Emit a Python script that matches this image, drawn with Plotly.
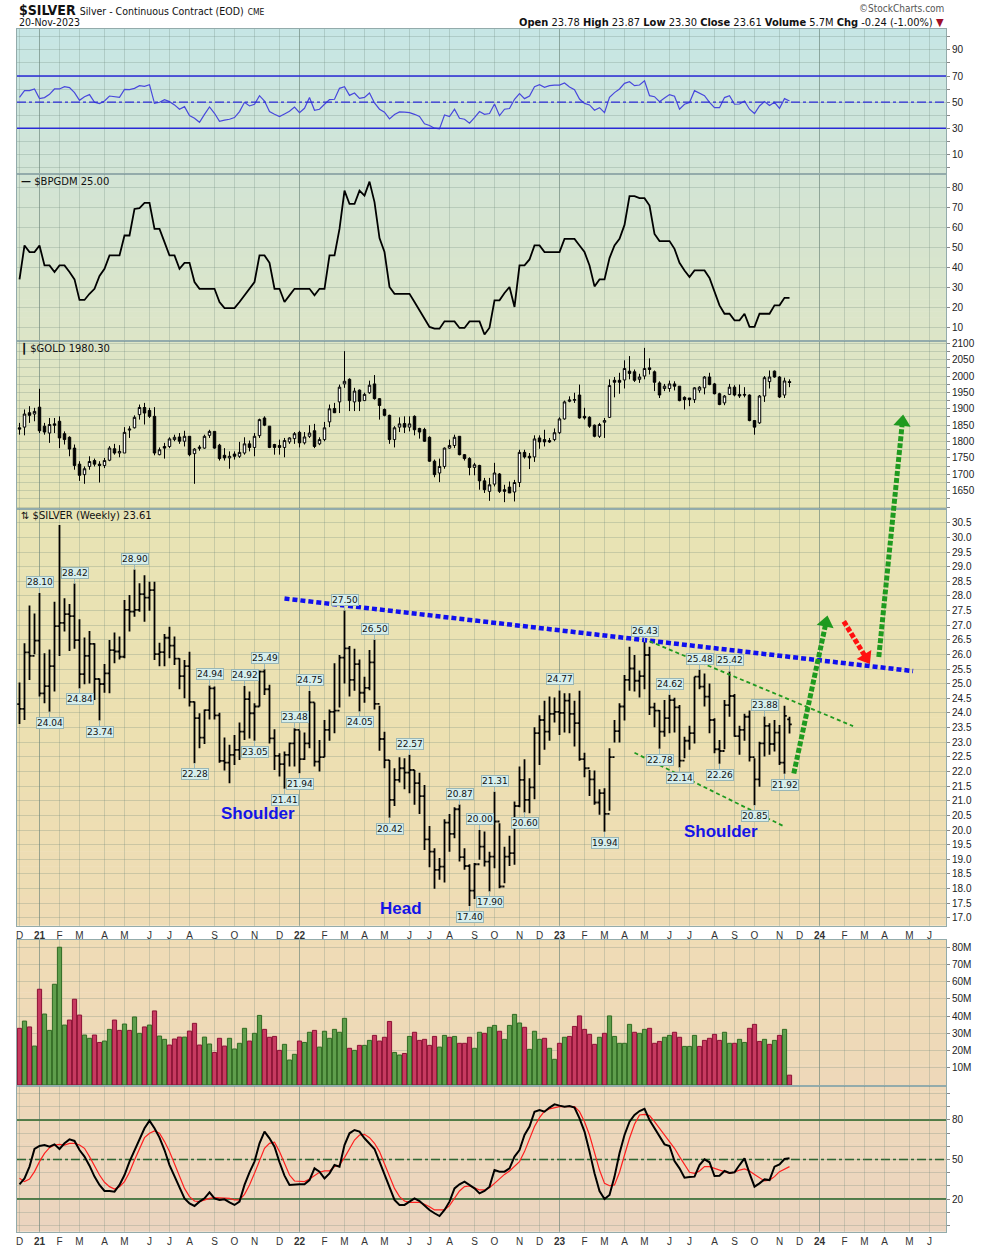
import plotly.graph_objects as go
import pandas as pd

W, H = 990, 1248
ML, MR = 17, 44

dates = pd.date_range("2020-12-07", periods=155, freq="W-MON")

silver_open = [24.30, 24.14, 26.07, 25.95, 26.47, 24.67, 24.92, 25.60, 26.97, 27.08,
 27.38, 27.31, 26.49, 25.33, 25.95, 26.36, 25.16, 24.99, 25.35, 26.15,
 26.10, 25.92, 27.52, 27.46, 27.52, 28.06, 27.94, 28.20, 26.01, 26.08,
 26.57, 26.30, 25.86, 25.26, 25.60, 24.38, 23.82, 23.16, 24.10, 24.84,
 23.92, 22.36, 22.30, 22.57, 22.74, 23.36, 24.47, 23.99, 24.22, 25.41,
 24.81, 23.13, 22.53, 22.25, 22.57, 22.96, 23.42, 22.42, 22.96, 24.36,
 22.34, 22.49, 23.42, 24.04, 24.08, 25.89, 26.21, 25.13, 25.67, 24.69,
 24.86, 25.73, 24.31, 23.11, 22.39, 21.03, 21.71, 22.11, 21.96, 22.05,
 21.60, 21.16, 19.68, 19.26, 18.64, 18.75, 20.25, 19.87, 20.71, 19.07,
 18.77, 17.93, 18.83, 19.43, 18.92, 19.09, 20.29, 18.07, 19.09, 19.21,
 20.82, 21.71, 21.03, 21.46, 23.31, 23.76, 23.36, 23.97, 24.04, 24.00,
 24.42, 23.97, 23.65, 22.42, 22.11, 21.73, 20.94, 21.26, 20.55, 22.49,
 23.38, 24.22, 25.13, 25.52, 25.10, 25.26, 25.98, 24.19, 24.08, 23.36,
 23.82, 24.44, 24.19, 22.37, 23.05, 23.31, 25.24, 24.90, 24.56, 23.76,
 22.76, 22.70, 24.27, 24.58, 23.21, 23.42, 23.87, 22.49, 21.73, 22.96,
 23.56, 22.94, 23.33, 22.30, 23.78]
silver_high = [25.04, 26.38, 27.67, 27.40, 28.10, 26.04, 26.17, 27.80, 30.42, 27.92,
 27.72, 28.42, 27.20, 26.58, 26.80, 26.38, 25.18, 25.67, 26.49, 26.75,
 26.61, 27.86, 28.03, 28.90, 28.43, 28.71, 28.48, 28.48, 26.40, 26.70,
 26.95, 26.61, 25.87, 25.81, 26.09, 24.39, 23.99, 24.12, 24.94, 24.90,
 24.01, 23.16, 22.91, 23.25, 23.67, 24.92, 24.73, 24.33, 25.45, 25.49,
 24.96, 23.44, 22.62, 22.68, 22.99, 23.48, 23.40, 23.33, 24.75, 24.36,
 23.08, 23.76, 24.12, 25.70, 25.98, 27.50, 26.29, 26.19, 25.83, 25.24,
 26.15, 26.50, 24.25, 23.36, 22.39, 22.11, 22.49, 22.45, 22.57, 22.05,
 21.96, 21.54, 20.14, 19.38, 19.04, 20.37, 20.55, 20.78, 20.87, 19.38,
 18.83, 18.87, 20.00, 19.95, 19.26, 21.31, 20.23, 19.43, 19.80, 20.97,
 22.17, 22.42, 21.77, 23.51, 23.92, 24.42, 24.56, 24.53, 24.77, 24.67,
 24.67, 24.42, 24.76, 22.64, 22.05, 22.03, 21.39, 21.43, 22.79, 23.76,
 24.33, 25.30, 26.26, 25.98, 25.45, 26.43, 26.26, 24.35, 24.10, 24.44,
 24.62, 24.52, 24.27, 23.19, 23.56, 25.24, 25.48, 25.35, 25.01, 23.82,
 23.08, 24.44, 25.42, 24.65, 23.56, 23.97, 24.08, 22.45, 23.02, 23.88,
 23.65, 23.76, 23.59, 24.25, 23.87]
silver_low = [23.62, 23.76, 25.13, 26.01, 24.56, 24.33, 24.04, 24.73, 25.95, 26.78,
 26.12, 26.19, 24.84, 24.98, 25.01, 24.44, 23.74, 24.69, 24.67, 25.70,
 25.83, 25.87, 26.78, 27.29, 27.46, 27.12, 27.49, 25.81, 25.60, 25.60,
 25.87, 25.64, 24.81, 24.50, 24.22, 22.28, 22.79, 22.94, 23.78, 23.78,
 22.30, 22.03, 21.60, 22.22, 22.39, 23.08, 23.13, 23.05, 24.22, 24.61,
 22.96, 22.05, 21.83, 21.41, 22.17, 22.17, 21.94, 22.39, 22.79, 22.17,
 22.00, 22.49, 23.05, 23.31, 24.19, 25.01, 24.56, 24.76, 24.05, 24.35,
 24.78, 24.12, 22.71, 22.11, 20.42, 20.82, 21.62, 21.39, 21.26, 20.86,
 20.55, 19.32, 18.73, 17.99, 18.30, 18.21, 19.26, 19.72, 18.92, 18.64,
 17.40, 17.64, 18.98, 18.75, 17.90, 18.69, 18.01, 18.18, 18.77, 18.81,
 20.78, 20.60, 20.57, 21.05, 22.22, 22.74, 23.05, 23.67, 23.25, 23.33,
 23.31, 22.85, 22.37, 21.80, 21.16, 20.86, 20.52, 19.94, 20.66, 22.99,
 22.99, 23.74, 24.76, 24.73, 24.53, 24.81, 23.93, 23.51, 22.78, 23.19,
 23.31, 23.33, 22.14, 22.45, 22.74, 22.96, 24.81, 24.22, 23.31, 22.62,
 22.26, 22.76, 23.87, 23.19, 22.57, 23.05, 22.34, 20.85, 21.48, 22.51,
 22.57, 22.68, 22.22, 21.92, 23.30]
silver_close = [24.14, 26.07, 25.95, 26.47, 24.67, 24.92, 25.60, 26.97, 27.08, 27.38,
 27.31, 26.49, 25.33, 25.95, 26.36, 25.16, 24.99, 25.35, 26.15, 26.10,
 25.92, 27.52, 27.46, 27.52, 28.06, 27.94, 28.20, 26.01, 26.08, 26.57,
 26.30, 25.86, 25.26, 25.60, 24.38, 23.82, 23.16, 24.10, 24.84, 23.92,
 22.36, 22.30, 22.57, 22.74, 23.36, 24.47, 23.99, 24.22, 25.41, 24.81,
 23.13, 22.53, 22.25, 22.57, 22.96, 23.42, 22.42, 22.96, 24.36, 22.34,
 22.49, 23.42, 24.04, 24.08, 25.89, 26.21, 25.13, 25.67, 24.69, 24.86,
 25.73, 24.31, 23.11, 22.39, 21.03, 21.71, 22.11, 21.96, 22.05, 21.60,
 21.16, 19.68, 19.26, 18.64, 18.75, 20.25, 19.87, 20.71, 19.07, 18.77,
 17.93, 18.83, 19.43, 18.92, 19.09, 20.29, 18.07, 19.09, 19.21, 20.82,
 21.71, 21.03, 21.46, 23.31, 23.76, 23.36, 23.97, 24.04, 24.00, 24.42,
 23.97, 23.65, 22.42, 22.11, 21.73, 20.94, 21.26, 20.55, 22.49, 23.38,
 24.22, 25.13, 25.52, 25.10, 25.26, 25.98, 24.19, 24.08, 23.36, 23.82,
 24.44, 24.19, 22.37, 23.05, 23.31, 25.24, 24.90, 24.56, 23.76, 22.76,
 22.70, 24.27, 24.58, 23.21, 23.42, 23.87, 22.49, 21.73, 22.96, 23.56,
 22.94, 23.33, 22.30, 23.90, 23.61]

gold_open = [1842, 1844, 1888, 1884, 1905, 1847, 1826, 1854, 1862, 1824,
 1813, 1780, 1731, 1699, 1724, 1742, 1731, 1727, 1743, 1778,
 1765, 1765, 1835, 1842, 1882, 1904, 1895, 1877, 1760, 1785,
 1785, 1806, 1814, 1801, 1816, 1763, 1779, 1780, 1819, 1831,
 1789, 1758, 1750, 1762, 1755, 1765, 1793, 1782, 1818, 1872,
 1847, 1791, 1788, 1782, 1799, 1809, 1828, 1796, 1816, 1833,
 1793, 1806, 1860, 1901, 1921, 1976, 1990, 1921, 1957, 1925,
 1949, 1976, 1931, 1898, 1880, 1806, 1844, 1855, 1844, 1877,
 1840, 1837, 1813, 1740, 1704, 1724, 1780, 1788, 1816, 1760,
 1748, 1721, 1727, 1680, 1648, 1670, 1701, 1653, 1661, 1646,
 1675, 1767, 1755, 1753, 1811, 1806, 1803, 1806, 1827, 1869,
 1923, 1926, 1942, 1877, 1874, 1850, 1816, 1859, 1874, 1987,
 1987, 1988, 2015, 2013, 1990, 2000, 2025, 2013, 1979, 1962,
 1962, 1976, 1969, 1935, 1933, 1928, 1957, 1964, 1997, 1976,
 1946, 1918, 1944, 1966, 1944, 1944, 1942, 1864, 1857, 1939,
 1983, 2015, 1997, 1942, 1983]
gold_high = [1857, 1898, 1908, 1903, 1961, 1857, 1872, 1872, 1877, 1831,
 1816, 1791, 1740, 1724, 1755, 1748, 1740, 1750, 1786, 1793,
 1789, 1844, 1847, 1880, 1913, 1918, 1903, 1905, 1782, 1796,
 1813, 1821, 1826, 1833, 1816, 1780, 1789, 1821, 1836, 1831,
 1793, 1780, 1770, 1770, 1799, 1813, 1803, 1826, 1870, 1877,
 1847, 1793, 1806, 1811, 1813, 1829, 1833, 1829, 1850, 1854,
 1813, 1860, 1913, 1918, 1974, 2076, 1993, 1964, 1959, 1949,
 1986, 2003, 1933, 1901, 1882, 1847, 1874, 1877, 1877, 1880,
 1842, 1842, 1816, 1745, 1748, 1782, 1806, 1821, 1816, 1762,
 1752, 1735, 1729, 1689, 1689, 1735, 1704, 1668, 1678, 1683,
 1775, 1775, 1765, 1819, 1819, 1836, 1811, 1840, 1874, 1925,
 1938, 1949, 1974, 1903, 1877, 1852, 1857, 1872, 1990, 1997,
 2010, 2048, 2061, 2020, 2007, 2086, 2054, 2017, 1984, 1976,
 1986, 1984, 1969, 1938, 1933, 1966, 1969, 2000, 2010, 1979,
 1949, 1942, 1976, 1972, 1974, 1966, 1944, 1864, 1942, 2000,
 2017, 2017, 2000, 1995, 1990]
gold_low = [1821, 1819, 1857, 1862, 1826, 1821, 1796, 1826, 1780, 1791,
 1755, 1714, 1680, 1671, 1714, 1724, 1675, 1719, 1740, 1760,
 1752, 1765, 1811, 1840, 1867, 1852, 1872, 1758, 1758, 1748,
 1780, 1801, 1793, 1785, 1755, 1671, 1772, 1778, 1811, 1778,
 1742, 1742, 1717, 1745, 1750, 1760, 1770, 1755, 1811, 1847,
 1780, 1760, 1760, 1752, 1793, 1793, 1782, 1791, 1811, 1780,
 1789, 1801, 1844, 1887, 1887, 1964, 1893, 1893, 1893, 1925,
 1946, 1928, 1867, 1877, 1793, 1782, 1829, 1826, 1831, 1819,
 1809, 1799, 1738, 1691, 1676, 1717, 1778, 1780, 1758, 1742,
 1697, 1697, 1653, 1643, 1619, 1663, 1643, 1615, 1643, 1617,
 1661, 1748, 1716, 1738, 1778, 1785, 1796, 1801, 1823, 1867,
 1920, 1918, 1870, 1867, 1842, 1813, 1811, 1811, 1872, 1935,
 1946, 1962, 1990, 1982, 1979, 1990, 2005, 1954, 1933, 1954,
 1952, 1956, 1923, 1898, 1908, 1918, 1949, 1944, 1972, 1944,
 1911, 1911, 1942, 1938, 1933, 1935, 1862, 1821, 1854, 1921,
 1962, 1995, 1933, 1933, 1966]
gold_close = [1838, 1884, 1880, 1892, 1833, 1829, 1852, 1850, 1811, 1806,
 1777, 1727, 1697, 1717, 1739, 1731, 1727, 1742, 1780, 1765,
 1770, 1828, 1838, 1874, 1904, 1887, 1877, 1765, 1775, 1780,
 1808, 1813, 1801, 1816, 1760, 1777, 1783, 1816, 1831, 1780,
 1748, 1750, 1755, 1755, 1767, 1793, 1782, 1816, 1867, 1850,
 1782, 1782, 1782, 1803, 1811, 1824, 1796, 1814, 1826, 1785,
 1806, 1842, 1900, 1888, 1966, 1984, 1925, 1954, 1923, 1944,
 1972, 1931, 1910, 1880, 1806, 1842, 1854, 1844, 1854, 1836,
 1829, 1801, 1740, 1699, 1724, 1780, 1788, 1813, 1760, 1748,
 1721, 1729, 1680, 1653, 1668, 1704, 1648, 1648, 1643, 1675,
 1767, 1753, 1750, 1808, 1799, 1799, 1799, 1827, 1869, 1921,
 1927, 1928, 1872, 1872, 1847, 1816, 1852, 1864, 1971, 1981,
 1981, 2023, 2008, 1987, 1997, 2023, 2020, 1981, 1942, 1969,
 1976, 1969, 1925, 1928, 1928, 1964, 1966, 1997, 1974, 1946,
 1913, 1939, 1966, 1942, 1939, 1942, 1864, 1844, 1939, 1995,
 1997, 1997, 1936, 1985, 1980.3]

rsi = [53.7, 58.8, 58.8, 60.1, 52.7, 53.5, 56.0, 60.1, 60.1, 61.9,
 61.1, 57.3, 51.4, 54.2, 55.8, 49.9, 48.9, 50.9, 54.7, 54.2,
 53.7, 59.8, 59.6, 60.6, 62.6, 62.1, 63.4, 49.1, 49.9, 51.9,
 50.4, 47.9, 44.6, 46.6, 39.7, 37.7, 34.6, 40.7, 46.3, 41.5,
 35.4, 36.2, 36.9, 38.2, 42.8, 49.9, 47.1, 48.4, 55.0, 50.9,
 42.8, 40.7, 39.0, 41.0, 43.0, 46.3, 42.0, 45.3, 53.5, 43.8,
 44.6, 48.4, 51.9, 52.2, 60.6, 61.9, 55.2, 57.0, 52.9, 53.7,
 57.0, 49.4, 44.6, 42.3, 37.2, 40.5, 42.5, 42.3, 42.0, 40.7,
 39.0, 33.4, 32.1, 30.1, 29.5, 40.2, 39.0, 44.6, 37.7, 36.9,
 33.9, 38.2, 42.8, 40.7, 41.3, 48.6, 39.7, 44.6, 45.1, 52.2,
 56.5, 52.7, 54.7, 61.9, 63.4, 61.4, 62.6, 63.1, 63.1, 64.7,
 61.6, 59.6, 52.4, 49.1, 47.9, 43.8, 45.8, 42.0, 53.7, 57.3,
 60.1, 64.4, 65.7, 62.6, 63.1, 66.4, 55.0, 54.2, 50.4, 53.2,
 55.8, 54.5, 44.6, 48.4, 49.7, 58.8, 56.8, 55.0, 49.9, 45.8,
 45.8, 53.5, 55.0, 48.4, 48.6, 50.9, 44.6, 41.3, 47.1, 50.4,
 47.4, 49.9, 45.3, 52.7, 50.9]

bpgdm = [34.2, 51.2, 47.9, 47.9, 51.2, 41.2, 41.2, 37.9, 41.2, 41.2,
 37.9, 34.2, 23.9, 23.9, 27.0, 29.5, 35.9, 39.5, 46.2, 46.2,
 46.2, 56.2, 56.2, 69.5, 69.9, 72.5, 72.5, 59.5, 59.5, 52.9,
 46.2, 46.2, 39.5, 42.5, 42.5, 32.9, 29.5, 29.5, 29.5, 29.5,
 22.9, 19.8, 19.8, 19.8, 22.9, 26.2, 29.5, 32.9, 46.2, 46.2,
 42.5, 29.5, 29.5, 22.9, 26.2, 29.5, 29.5, 29.5, 29.5, 26.2,
 29.5, 29.5, 46.2, 46.2, 59.5, 78.7, 72.0, 72.0, 78.7, 76.2,
 83.2, 72.9, 54.9, 47.9, 30.4, 27.0, 27.0, 27.0, 27.0, 22.9,
 18.7, 14.5, 10.4, 9.5, 9.5, 13.2, 13.2, 13.2, 9.9, 9.9,
 13.2, 13.2, 13.2, 6.6, 10.0, 23.7, 23.7, 27.4, 30.4, 20.4,
 41.2, 41.2, 44.2, 51.2, 51.2, 47.9, 47.9, 47.9, 47.9, 54.5,
 54.5, 54.5, 51.2, 47.9, 41.2, 30.7, 34.2, 34.2, 44.9, 51.2,
 54.5, 61.5, 75.9, 75.9, 74.9, 74.9, 71.2, 57.0, 53.4, 53.4,
 53.4, 49.5, 42.5, 38.7, 35.4, 38.7, 38.7, 38.7, 34.9, 27.5,
 21.2, 17.0, 17.0, 13.7, 13.7, 17.0, 10.4, 10.4, 17.0, 17.0,
 17.0, 21.2, 21.2, 25.0, 25.0]

volume_m = [32.9, 37.1, 33.7, 22.6, 55.6, 41.2, 31.7, 58.5, 80.0, 34.8,
 37.7, 49.8, 40.6, 29.0, 27.1, 29.0, 24.7, 25.5, 32.3, 37.7,
 31.7, 35.4, 31.7, 39.5, 30.0, 33.7, 34.8, 43.0, 28.4, 26.5,
 23.2, 26.7, 27.8, 27.8, 31.3, 35.8, 23.2, 27.8, 23.8, 18.9,
 27.1, 22.6, 27.1, 20.9, 24.2, 32.9, 25.5, 30.0, 40.4, 32.3,
 27.7, 28.2, 20.1, 23.6, 14.5, 17.8, 25.5, 24.7, 30.6, 31.7,
 22.0, 31.2, 27.1, 32.3, 30.6, 38.7, 21.3, 20.1, 23.0, 23.0,
 25.9, 28.8, 25.5, 27.7, 36.9, 18.9, 17.4, 18.3, 28.2, 30.6,
 25.9, 26.5, 23.0, 28.2, 22.0, 28.8, 27.7, 28.2, 24.2, 24.2,
 27.7, 21.3, 30.6, 30.0, 33.5, 34.6, 31.2, 26.5, 34.6, 41.0,
 36.0, 33.5, 20.7, 31.2, 26.5, 27.1, 21.3, 14.9, 24.2, 27.7,
 28.2, 34.0, 40.1, 32.3, 29.4, 23.6, 27.7, 30.0, 40.1, 28.2,
 24.2, 24.2, 35.2, 30.6, 30.0, 32.3, 32.9, 24.2, 25.3, 27.7,
 28.8, 30.6, 27.7, 22.4, 22.4, 28.8, 22.4, 25.9, 27.1, 29.4,
 25.9, 30.6, 24.2, 24.2, 26.5, 24.7, 32.9, 35.2, 25.3, 26.5,
 23.6, 25.9, 28.8, 32.3, 5.7]
volume_dir = ("rgrgrggggg" "rrrggrrggr" "rgrggrgrgg" "rrrgrrrggr" "rrggggrggr"
              "rrrgggrggr" "ggggggrgrg" "grrrrggrgr" "rrrrggrgrr" "rggrggrggg"
              "grgggrggrg" "rrrrrrgrgg" "gggrggrrrg" "grrgggrrrr" "rggrggrrrg"
              "rgrgr")

stoch_k = [31.2, 35.7, 44.6, 58.0, 60.3, 61.0, 59.7, 61.5, 58.0, 62.3,
 65.3, 64.1, 57.2, 52.2, 45.3, 37.0, 30.7, 26.1, 26.1, 25.6,
 30.7, 38.2, 48.4, 57.2, 65.6, 73.7, 79.5, 73.7, 66.6, 57.2,
 45.8, 37.0, 29.4, 20.5, 16.7, 14.7, 18.0, 20.5, 25.1, 20.5,
 19.3, 19.8, 17.5, 15.5, 18.0, 30.7, 40.3, 48.4, 62.3, 71.2,
 66.1, 59.7, 47.9, 37.7, 30.7, 31.2, 31.2, 31.2, 34.4, 43.3,
 40.8, 35.7, 39.5, 45.8, 44.6, 61.0, 69.9, 72.4, 71.2, 66.1,
 62.3, 58.0, 48.4, 38.2, 28.1, 19.3, 15.5, 15.5, 18.0, 20.5,
 18.5, 15.0, 11.7, 9.2, 7.1, 11.7, 18.0, 28.1, 31.2, 33.2,
 30.7, 28.1, 24.3, 26.1, 29.4, 42.0, 40.8, 40.8, 43.3, 52.2,
 57.2, 68.6, 75.0, 86.3, 87.6, 86.3, 89.4, 91.9, 90.9, 90.1,
 90.6, 89.4, 81.3, 71.2, 56.0, 39.5, 26.1, 20.0, 23.1, 37.0,
 54.7, 68.6, 78.7, 83.8, 86.8, 88.4, 80.0, 73.7, 67.4, 61.5,
 60.3, 48.9, 43.3, 36.2, 36.7, 37.0, 45.8, 50.1, 47.9, 37.5,
 37.7, 41.3, 39.8, 40.3, 45.8, 50.9, 39.5, 29.4, 31.9, 34.9,
 34.4, 44.6, 46.3, 50.4, 50.9]
stoch_d = [35.7, 33.2, 35.2, 40.8, 48.4, 54.7, 59.0, 61.0, 61.5, 61.0,
 62.3, 62.3, 61.0, 58.5, 52.2, 44.6, 38.2, 32.7, 29.4, 27.6,
 29.4, 33.2, 40.3, 49.6, 58.5, 66.6, 69.9, 71.7, 69.9, 63.6,
 56.0, 46.3, 37.0, 28.1, 21.8, 18.5, 18.0, 19.3, 20.5, 21.0,
 21.0, 21.0, 20.5, 19.3, 19.3, 23.6, 30.7, 39.5, 49.6, 58.5,
 62.3, 63.1, 56.0, 47.1, 38.2, 33.7, 33.2, 33.2, 35.2, 37.7,
 40.3, 41.3, 41.3, 44.6, 45.8, 51.4, 58.5, 64.8, 68.6, 69.1,
 66.6, 62.3, 56.0, 47.1, 37.0, 28.1, 21.8, 18.5, 17.5, 17.5,
 17.5, 16.0, 14.2, 11.7, 11.7, 11.7, 15.0, 20.5, 26.1, 29.4,
 29.9, 28.6, 26.9, 26.9, 28.6, 31.9, 35.7, 38.7, 41.3, 44.6,
 48.4, 56.0, 66.1, 75.0, 81.8, 86.8, 88.4, 89.4, 90.1, 90.1,
 90.1, 90.1, 86.3, 78.7, 68.6, 56.0, 42.0, 31.9, 30.1, 30.7,
 40.3, 53.4, 66.1, 76.7, 83.8, 84.3, 83.3, 78.7, 73.7, 68.6,
 63.6, 58.5, 52.2, 45.8, 40.3, 39.5, 41.3, 44.6, 44.6, 43.3,
 42.0, 40.3, 39.5, 40.3, 42.0, 42.8, 41.3, 38.7, 36.2, 33.7,
 34.4, 37.0, 40.8, 42.8, 44.6]

high_labels = [4, 11, 23, 38, 45, 49, 55, 58, 65, 71, 78, 88, 92, 95, 108, 125, 130, 136, 142, 149]
low_labels = [6, 12, 16, 35, 47, 53, 56, 68, 74, 90, 94, 101, 117, 128, 132, 140, 147, 153]

for nm, arr in [("so", silver_open), ("sh", silver_high), ("sl", silver_low), ("sc", silver_close),
                ("go", gold_open), ("gh", gold_high), ("gl", gold_low), ("gc", gold_close),
                ("rsi", rsi), ("bp", bpgdm), ("vol", volume_m), ("dir", volume_dir),
                ("k", stoch_k), ("d", stoch_d)]:
    assert len(arr) == 155, (nm, len(arr))

# ---------------- geometry helpers -----------------
def P(py):
    return 1 - py / H

def PX(px):
    return (px - ML) / (W - ML - MR)

DOM = {1: (28.5, 174.0), 2: (174.0, 341.0), 3: (341.0, 508.7),
       4: (508.7, 925.7), 5: (940.0, 1086.0), 6: (1086.0, 1231.7)}
YR = {1: [-5.0, 106.4], 2: [3.35, 87.0], 3: [1595, 2107], 4: [16.73, 30.98],
      5: [-0.6, 84.2], 6: [-4.8, 105.8]}
XR = ["2020-12-03 12:00", "2024-06-26 02:00"]

GRID = "rgba(105,130,120,0.26)"
YEARGRID = "rgba(105,130,120,0.50)"
BORDER = "#93abab"
TICKFONT = dict(family="Liberation Sans, Arial, sans-serif", size=10, color="#222")

month_starts = pd.date_range("2020-12-01", "2024-06-30", freq="MS")
tickvals = [d + pd.Timedelta(days=(7 - d.weekday()) % 7) for d in month_starts]
ticktext = [("<b>%02d</b>" % (d.year % 100)) if d.month == 1 else "JFMAMJJASOND"[d.month - 1]
            for d in month_starts]
year_ticks = [t for t, d in zip(tickvals, month_starts) if d.month == 1]

fig = go.Figure()

fig.add_trace(go.Scatter(x=dates, y=rsi, xaxis="x", yaxis="y", mode="lines",
                         line=dict(color="#4848dc", width=1.2)))
fig.add_trace(go.Scatter(x=dates, y=bpgdm, xaxis="x2", yaxis="y2", mode="lines",
                         line=dict(color="black", width=1.8)))
fig.add_trace(go.Candlestick(x=dates, open=gold_open, high=gold_high, low=gold_low, close=gold_close,
                             xaxis="x3", yaxis="y3", whiskerwidth=0,
                             increasing=dict(line=dict(color="black", width=1), fillcolor="white"),
                             decreasing=dict(line=dict(color="black", width=1), fillcolor="black")))
fig.add_trace(go.Ohlc(x=dates, open=silver_open, high=silver_high, low=silver_low, close=silver_close,
                      xaxis="x4", yaxis="y4", tickwidth=0.45,
                      increasing=dict(line=dict(color="black", width=1.8)),
                      decreasing=dict(line=dict(color="black", width=1.8))))
fill = {"g": "#5f9e4c", "r": "#c73a60"}
edge = {"g": "#2f6b22", "r": "#8c1034"}
fig.add_trace(go.Bar(x=dates, y=volume_m, xaxis="x5", yaxis="y5",
                     marker=dict(color=[fill[c] for c in volume_dir],
                                 line=dict(color=[edge[c] for c in volume_dir], width=1))))
fig.add_trace(go.Scatter(x=dates, y=stoch_d, xaxis="x6", yaxis="y6", mode="lines",
                         line=dict(color="#ff2020", width=1.2)))
fig.add_trace(go.Scatter(x=dates, y=stoch_k, xaxis="x6", yaxis="y6", mode="lines",
                         line=dict(color="black", width=2)))

# ---------------- layout -----------------
layout = dict(width=W, height=H, margin=dict(l=ML, r=MR, t=0, b=0, pad=0),
              paper_bgcolor="white", plot_bgcolor="rgba(0,0,0,0)", showlegend=False,
              hovermode=False, bargap=0.16)

ytick = {
    1: (list(range(0, 101, 10)), ["" if v % 20 == 0 else str(v) for v in range(0, 101, 10)]),
    2: (list(range(10, 81, 10)), [str(v) for v in range(10, 81, 10)]),
    3: (list(range(1600, 2101, 25)), [str(v) if (v % 50 == 0 and v >= 1650) else "" for v in range(1600, 2101, 25)]),
    4: ([17.0 + 0.5 * j for j in range(28)], ["%.1f" % (17.0 + 0.5 * j) for j in range(28)]),
    5: (list(range(10, 81, 10)), ["%dM" % v for v in range(10, 81, 10)]),
    6: (list(range(0, 101, 10)), [str(v) if v in (20, 50, 80) else "" for v in range(0, 101, 10)]),
}

for k in range(1, 7):
    s = "" if k == 1 else str(k)
    top, bot = DOM[k]
    xa = dict(domain=[0, 1], anchor="y" + s, type="date", range=XR, tickmode="array",
              tickvals=tickvals, ticktext=ticktext, showgrid=True, gridcolor=GRID, gridwidth=1,
              showline=True, linecolor=BORDER, linewidth=1, mirror=True, ticks="",
              showticklabels=(k in (4, 6)), tickfont=dict(family="Liberation Sans, Arial", size=10, color="#333"),
              rangeslider=dict(visible=False), zeroline=False, fixedrange=True, automargin=False)
    if k > 1:
        xa["matches"] = "x"
    layout["xaxis" + s] = xa
    tv, tt = ytick[k]
    layout["yaxis" + s] = dict(domain=[P(bot), P(top)], anchor="x" + s, side="right", range=YR[k],
                               tickmode="array", tickvals=tv, ticktext=tt, showgrid=True,
                               gridcolor=GRID, gridwidth=1, showline=True, linecolor=BORDER,
                               linewidth=1, mirror=True, ticks="outside", ticklen=3,
                               tickcolor="#888", tickfont=TICKFONT, zeroline=False,
                               fixedrange=True, automargin=False)

# overlay axis for drawings (same price scale as silver, extended up over gold panel)
s_lo, s_hi = YR[4]
ov_top_px = DOM[3][0]
ov_hi = s_lo + (s_hi - s_lo) * (DOM[4][1] - ov_top_px) / (DOM[4][1] - DOM[4][0])
layout["xaxis7"] = dict(domain=[0, 1], anchor="y7", matches="x", type="date", range=XR,
                        visible=False, showgrid=False, fixedrange=True)
layout["yaxis7"] = dict(domain=[P(DOM[4][1]), P(ov_top_px)], anchor="x7", range=[s_lo, ov_hi],
                        visible=False, showgrid=False, fixedrange=True)
fig.update_layout(**layout)

# ---------------- background gradient bands -----------------
STOPS = [(28, (198, 230, 229)), (175, (210, 228, 213)), (341, (221, 229, 199)),
         (509, (231, 228, 181)), (720, (236, 224, 177)), (926, (239, 220, 181)),
         (1087, (238, 216, 185)), (1232, (235, 212, 191))]

def grad(py):
    for (y0, c0), (y1, c1) in zip(STOPS[:-1], STOPS[1:]):
        if py <= y1:
            t = max(0.0, min(1.0, (py - y0) / (y1 - y0)))
            return "rgb(%d,%d,%d)" % tuple(round(a + (b - a) * t) for a, b in zip(c0, c1))
    return "rgb(%d,%d,%d)" % STOPS[-1][1]

shapes = []
for k in range(1, 7):
    top, bot = DOM[k]
    n = 28
    for j in range(n):
        y0 = top + (bot - top) * j / n
        y1 = top + (bot - top) * (j + 1) / n
        shapes.append(dict(type="rect", xref="paper", yref="paper", x0=0, x1=1,
                           y0=P(min(bot, y1 + 0.6)), y1=P(y0), fillcolor=grad((y0 + y1) / 2),
                           line=dict(width=0), layer="below"))
for k in range(1, 7):
    s = "" if k == 1 else str(k)
    for t in year_ticks:
        shapes.append(dict(type="line", xref="x" + s, yref="y" + s + " domain", x0=t, x1=t, y0=0, y1=1,
                           line=dict(color=YEARGRID, width=1), layer="below"))

# reference lines
for v, dash in [(70, "solid"), (30, "solid"), (50, "dashdot")]:
    shapes.append(dict(type="line", xref="x domain", yref="y", x0=0, x1=1, y0=v, y1=v,
                       line=dict(color="#2a2ad6", width=1.4, dash=dash), layer="above"))
for v, dash in [(80, "solid"), (20, "solid"), (50, "dashdot")]:
    shapes.append(dict(type="line", xref="x6 domain", yref="y6", x0=0, x1=1, y0=v, y1=v,
                       line=dict(color="#1d5c1d", width=1.6, dash=dash), layer="below"))

# drawings on silver
def seg(x0, y0, x1, y1, color, width, dash):
    shapes.append(dict(type="line", xref="x7", yref="y7", x0=x0, y0=y0, x1=x1, y1=y1,
                       line=dict(color=color, width=width, dash=dash), layer="above"))

seg("2021-12-13", 27.91, "2024-05-11", 25.43, "#1010ee", 4.5, "5px,3px")
seg("2023-05-08", 26.45, "2024-02-17", 23.55, "#1f9a1f", 1.8, "4px,3px")
seg("2023-04-17", 22.64, "2023-11-11", 20.14, "#1f9a1f", 1.8, "4px,3px")
seg("2023-11-26", 21.93, "2024-01-10", 27.08, "#1f9a1f", 5, "5px,2px")
seg("2024-02-04", 27.13, "2024-03-06", 25.89, "#ff1010", 5, "5px,2px")
seg("2024-03-24", 25.91, "2024-04-26", 33.94, "#1f9a1f", 5, "5px,2px")

fig.add_trace(go.Scatter(x=["2024-01-10", "2024-03-06", "2024-04-26"], y=[27.08, 25.89, 33.94],
                         xaxis="x7", yaxis="y7", mode="markers", cliponaxis=False,
                         marker=dict(symbol="triangle-up", size=15, angle=[12, 148, 6],
                                     color=["#1f9a1f", "#ff1010", "#1f9a1f"], line=dict(width=0))))

fig.update_layout(shapes=shapes)

# ---------------- annotations -----------------
ann = []
LBL = dict(family="DejaVu Sans, Verdana, sans-serif", size=9, color="#111")
for i in high_labels:
    ann.append(dict(x=dates[i], y=silver_high[i], xref="x4", yref="y4", text="%.2f" % silver_high[i],
                    showarrow=True, arrowhead=0, arrowwidth=1, arrowcolor="#98b6b6", ax=0, ay=-11,
                    bgcolor="#d6eeec", bordercolor="#98b6b6", borderwidth=1, borderpad=0, font=LBL))
for i in low_labels:
    ann.append(dict(x=dates[i], y=silver_low[i], xref="x4", yref="y4", text="%.2f" % silver_low[i],
                    showarrow=True, arrowhead=0, arrowwidth=1, arrowcolor="#98b6b6", ax=0, ay=11,
                    bgcolor="#d6eeec", bordercolor="#98b6b6", borderwidth=1, borderpad=0, font=LBL))

BIG = dict(family="Liberation Sans, Arial, sans-serif", size=17, color="#1414e6")
ann.append(dict(x="2021-11-06", y=20.57, xref="x4", yref="y4", text="<b>Shoulder</b>", showarrow=False, font=BIG))
ann.append(dict(x="2022-05-25", y=17.33, xref="x4", yref="y4", text="<b>Head</b>", showarrow=False, font=BIG))
ann.append(dict(x="2023-08-16", y=19.96, xref="x4", yref="y4", text="<b>Shoulder</b>", showarrow=False, font=BIG))

PANEL = dict(family="DejaVu Sans, Verdana, sans-serif", size=10, color="#111")
ann.append(dict(x=PX(19), y=P(181), xref="paper", yref="paper", xanchor="left", yanchor="middle",
                text="<b>\u2014</b> $BPGDM %.2f" % bpgdm[-1], showarrow=False, font=PANEL))
ann.append(dict(x=PX(19), y=P(348), xref="paper", yref="paper", xanchor="left", yanchor="middle",
                text="\u2503 $GOLD %.2f" % gold_close[-1], showarrow=False, font=PANEL))
ann.append(dict(x=PX(19), y=P(515), xref="paper", yref="paper", xanchor="left", yanchor="middle",
                text="\u21c5 $SILVER (Weekly) %.2f" % silver_close[-1], showarrow=False, font=PANEL))

HDR = "Liberation Sans Narrow, DejaVu Sans Condensed, Liberation Sans, Arial, sans-serif"
ann.append(dict(x=0, y=P(9.5), xref="paper", yref="paper", xanchor="left", yanchor="middle",
                text=("<b>$SILVER</b> <span style='font-size:10.5px'>Silver - Continuous Contract (EOD)</span>"
                      " <span style='font-size:8.5px'>CME</span>"),
                showarrow=False, font=dict(family=HDR, size=14, color="#111")))
ann.append(dict(x=0, y=P(22), xref="paper", yref="paper", xanchor="left", yanchor="middle",
                text=dates[-1].strftime("%d-%b-%Y"), showarrow=False,
                font=dict(family=HDR, size=10.5, color="#111")))
ann.append(dict(x=1, y=P(9), xref="paper", yref="paper", xanchor="right", yanchor="middle",
                text="\u00a9StockCharts.com", showarrow=False,
                font=dict(family=HDR, size=10, color="#555")))
info = ("<b>Open</b> %.2f <b>High</b> %.2f <b>Low</b> %.2f <b>Close</b> %.2f "
        "<b>Volume</b> %.1fM <b>Chg</b> -0.24 (-1.00%%) <span style='color:#a0102a'>\u25bc</span>"
        % (silver_open[-1], silver_high[-1], silver_low[-1], silver_close[-1], volume_m[-1]))
ann.append(dict(x=1, y=P(22), xref="paper", yref="paper", xanchor="right", yanchor="middle",
                text=info, showarrow=False, font=dict(family=HDR, size=11, color="#111")))

fig.update_layout(annotations=ann)

fig.write_html("out.html", config={"displayModeBar": False},
               post_script="document.body.style.margin='0px';document.body.style.padding='0px';")
